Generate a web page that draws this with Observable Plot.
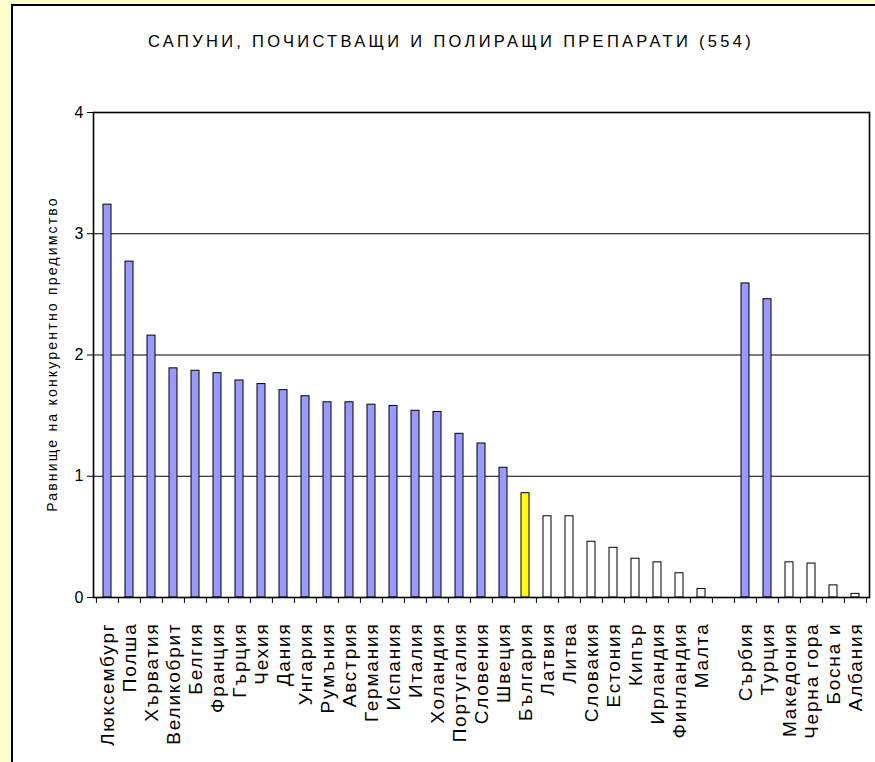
<!DOCTYPE html>
<html><head><meta charset="utf-8">
<script src="https://cdn.jsdelivr.net/npm/d3@7"></script>
<script src="https://cdn.jsdelivr.net/npm/@observablehq/plot@0.6"></script>
<style>
html,body{margin:0;padding:0;width:875px;height:762px;overflow:hidden;background:#FFFFCC;font-family:"Liberation Sans",Arial,sans-serif;}
#frame{position:absolute;left:11px;top:4px;width:900px;height:800px;background:#fff;border-left:2px solid #000;border-top:2px solid #000;}
#title{position:absolute;left:148px;top:31px;font-size:16.5px;letter-spacing:3.3px;white-space:nowrap;color:#000;line-height:20px;font-family:"Liberation Sans",Arial,sans-serif;}
#chart{position:absolute;left:0;top:0;}
</style></head><body>
<div id="frame"></div>
<div id="title"></div>
<div id="chart"></div>
<script>
const title = "САПУНИ, ПОЧИСТВАЩИ И ПОЛИРАЩИ ПРЕПАРАТИ (554)";
const yLabel = "Равнище на конкурентно предимство";
const categories = ["Люксембург","Полша","Хърватия","Великобрит","Белгия","Франция","Гърция","Чехия","Дания","Унгария","Румъния","Австрия","Германия","Испания","Италия","Холандия","Португалия","Словения","Швеция","България","Латвия","Литва","Словакия","Естония","Кипър","Ирландия","Финландия","Малта","","Сърбия","Турция","Македония","Черна гора","Босна и","Албания"];
const values = [3.24,2.77,2.16,1.89,1.87,1.85,1.79,1.76,1.71,1.66,1.61,1.61,1.59,1.58,1.54,1.53,1.35,1.27,1.07,0.86,0.67,0.67,0.46,0.41,0.32,0.29,0.20,0.07,null,2.59,2.46,0.29,0.28,0.10,0.03];
const groups = ["high","high","high","high","high","high","high","high","high","high","high","high","high","high","high","high","high","high","high","bg","low","low","low","low","low","low","low","low",null,"high","high","low","low","low","low"];
const groupColors = {high:"#9999FF", bg:"#FFFF00", low:"#FFFFFF"};
const yTicks = [0,1,2,3,4];
const gridValues = [1,2,3];

document.getElementById("title").textContent = title;

const data = categories.map((c,i)=>({name:c, value:values[i], group:groups[i]})).filter(d=>d.value!=null);
const W=875,H=762, mL=93, mR=6, mT=112, mB=165;
const step = (W-mL-mR)/categories.length;

const plot = Plot.plot({
  width:W, height:H, marginLeft:mL, marginRight:mR, marginTop:mT, marginBottom:mB,
  style:{background:"transparent", fontFamily:"'Liberation Sans', Arial, sans-serif", color:"#000", overflow:"visible"},
  x:{type:"band", domain:categories, paddingInner:0.64, paddingOuter:0.32, align:0.5},
  y:{domain:[0,4]},
  marks:[
    Plot.gridY(gridValues,{stroke:"#000", strokeOpacity:1, strokeWidth:1}),
    Plot.barY(data,{x:"name", y:"value", fill:d=>groupColors[d.group], stroke:"#000", strokeWidth:1}),
    Plot.frame({stroke:"#000", strokeWidth:1.6}),
    Plot.axisY(yTicks,{tickSize:6, tickPadding:4, fontSize:16, tickFormat:d=>String(d), label:null, stroke:"#000"}),
    Plot.text([yLabel],{frameAnchor:"left", dx:-41, dy:-1, rotate:-90, textAnchor:"middle", fontSize:14, fill:"#000"}),
    Plot.axisX({tickSize:6, tickFormat:()=>"", dx:-step/2, label:null, stroke:"#000"}),
    Plot.axisX([categories[categories.length-1]],{tickSize:6, tickFormat:()=>"", dx:step/2, label:null, stroke:"#000"}),
    Plot.axisX({tickSize:0, tickPadding:25, tickRotate:-90, fontSize:19, label:null, fill:"#000"})
  ]
});
const svg = d3.select(plot);
svg.selectAll("text").filter(function(){return this.textContent===yLabel;}).style("letter-spacing","2.2px");
svg.selectAll("text").filter(function(){return categories.includes(this.textContent) && this.textContent!=="";}).style("letter-spacing","1.8px");
document.getElementById("chart").appendChild(plot);
</script>
</body></html>
